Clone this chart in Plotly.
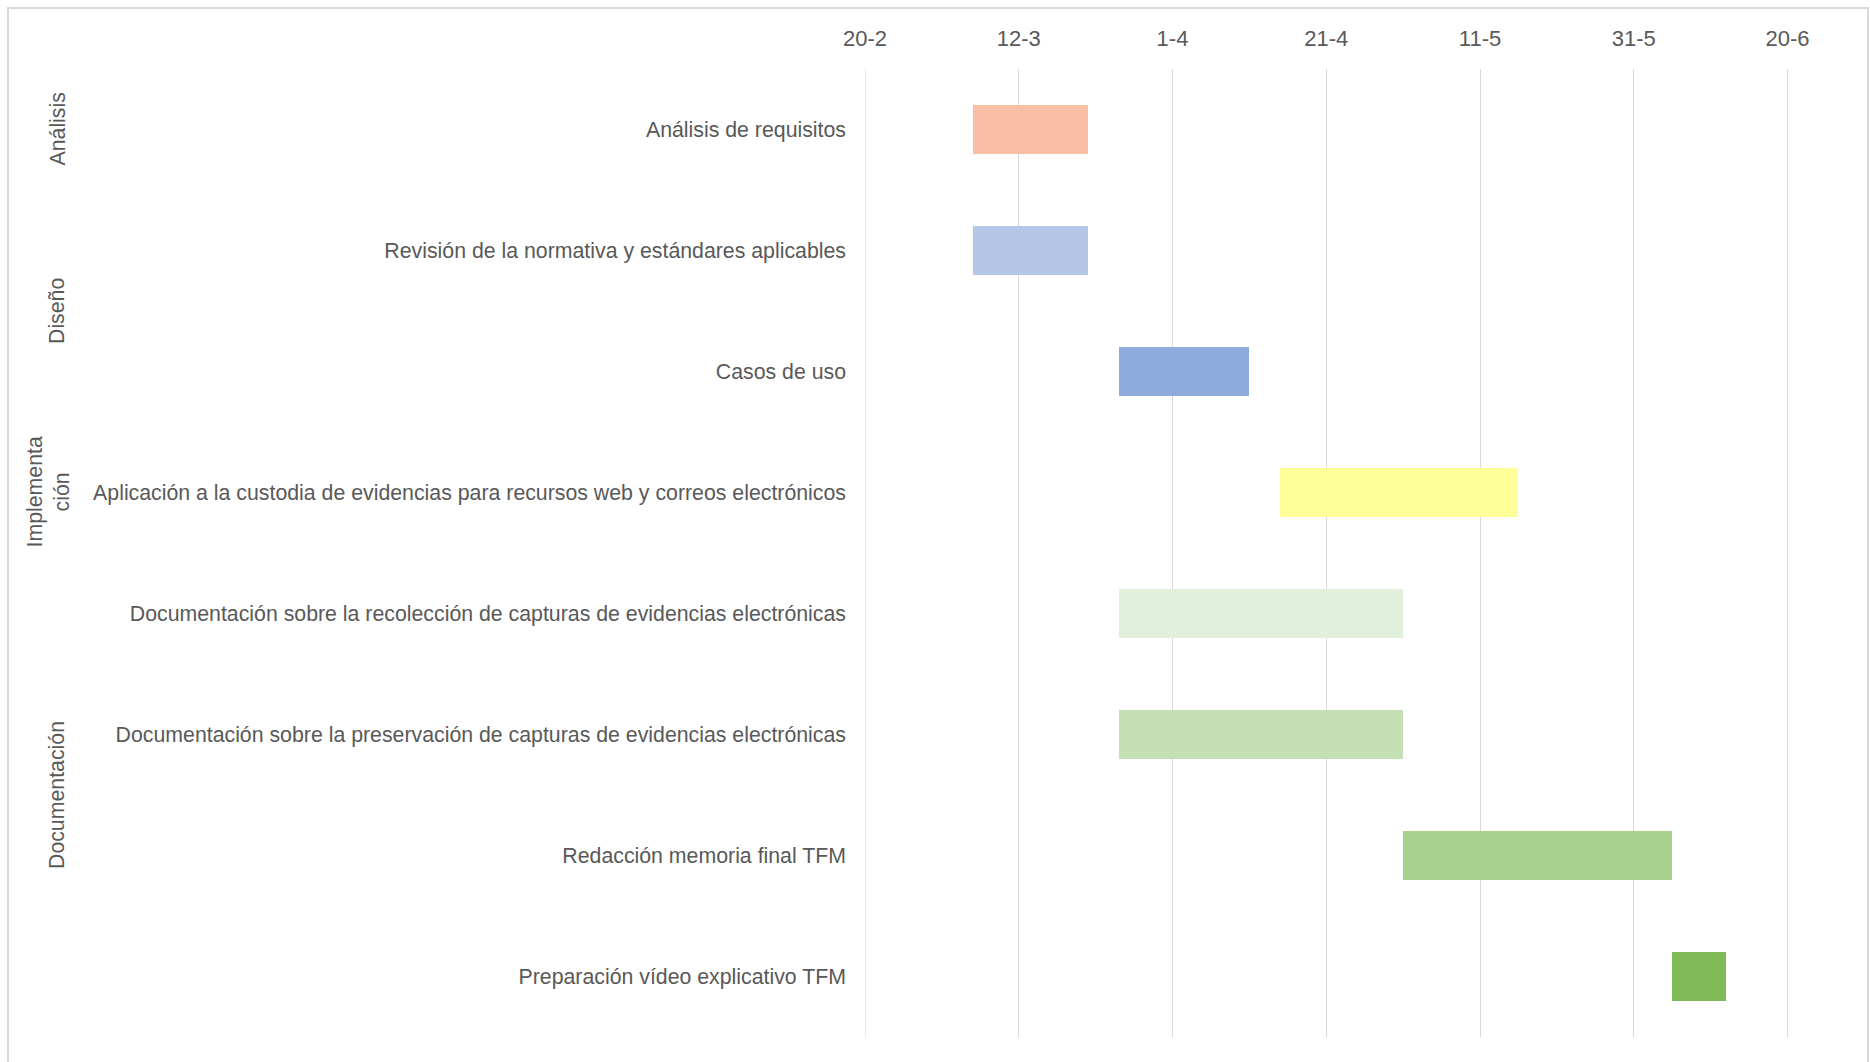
import plotly.graph_objects as go

tasks = [
    "Análisis de requisitos",
    "Revisión de la normativa y estándares aplicables",
    "Casos de uso",
    "Aplicación a la custodia de evidencias para recursos web y correos electrónicos",
    "Documentación sobre la recolección de capturas de evidencias electrónicas",
    "Documentación sobre la preservación de capturas de evidencias electrónicas",
    "Redacción memoria final TFM",
    "Preparación vídeo explicativo TFM",
]
start_dates = ["2023-03-06", "2023-03-06", "2023-03-25", "2023-04-15",
               "2023-03-25", "2023-03-25", "2023-05-01", "2023-06-05"]
durations_days = [15, 15, 17, 31, 37, 37, 35, 7]
colors = ["#F8BFA5", "#B4C7E7", "#8FAADC", "#FFFF99",
          "#E2EFDA", "#C5E0B4", "#A9D18E", "#7FBA56"]

groups = ["Análisis", "Diseño", "Implementa<br>ción", "Documentación"]
group_rows = [[0], [1, 2], [3], [4, 5, 6, 7]]

axis_start = "2023-02-20"
axis_end = "2023-06-28"
tick_step_days = 20

DAY_MS = 86400000
TEXT = "#595959"
GRID = "#D9D9D9"

fig = go.Figure()
fig.add_trace(go.Bar(
    y=tasks,
    x=[d * DAY_MS for d in durations_days],
    base=start_dates,
    orientation="h",
    marker=dict(color=colors, line=dict(width=0)),
    width=0.4,
    showlegend=False,
    hoverinfo="skip",
))

W, H = 1870, 1062
ml, mr, mt, mb = 865, 21, 69, 25
pw = W - ml - mr
ph = H - mt - mb

def px_x(p):
    return (p - ml) / pw

def px_y(p):
    return 1 - (p - mt) / ph

fig.update_layout(
    width=W, height=H,
    margin=dict(l=ml, r=mr, t=mt, b=mb, autoexpand=False),
    plot_bgcolor="white", paper_bgcolor="white",
    bargap=0,
    xaxis=dict(
        type="date", side="top",
        range=[axis_start, axis_end],
        tick0=axis_start, dtick=tick_step_days * DAY_MS,
        tickformat="%-d-%-m",
        showgrid=True, gridcolor=GRID, gridwidth=1.3,
        zeroline=False, showline=False, ticks="",
        ticklabelstandoff=18,
        tickfont=dict(family="Liberation Sans Narrow, Arial Narrow, Liberation Sans", size=22, color=TEXT),
    ),
    yaxis=dict(
        type="category", categoryorder="array", categoryarray=tasks,
        range=[len(tasks) - 0.5, -0.5],
        showgrid=False, zeroline=False, showline=False, ticks="",
        ticklabelstandoff=18,
        tickfont=dict(family="Liberation Sans, Arial", size=21.3, color=TEXT),
    ),
    font=dict(family="Liberation Sans, Arial", color=TEXT),
)

# gridline at the first tick (axis start), which plotly omits at the plot edge
fig.add_shape(type="line", xref="x", yref="paper", x0=axis_start, x1=axis_start,
              y0=0, y1=1, line=dict(color=GRID, width=1.3), layer="below")

annotations = []
for g, rows in zip(groups, group_rows):
    yc = sum(rows) / len(rows)
    annotations.append(dict(
        text=g, x=px_x(48 if "<br>" in g else 57), xref="paper", y=yc, yref="y",
        textangle=-90, showarrow=False, xanchor="center", yanchor="middle",
        font=dict(family="Liberation Sans, Arial", size=21.3, color=TEXT), align="center",
    ))
fig.update_layout(annotations=annotations)

fig.add_shape(type="rect", xref="paper", yref="paper",
              x0=px_x(8), x1=px_x(1868), y0=px_y(8), y1=px_y(1100),
              line=dict(color=GRID, width=2), fillcolor="rgba(0,0,0,0)", layer="below")

fig.write_html("out.html")
